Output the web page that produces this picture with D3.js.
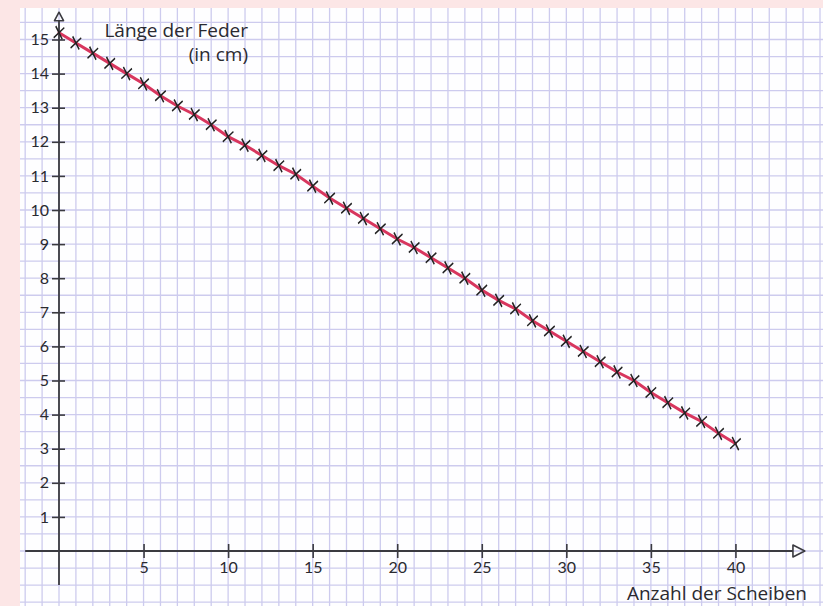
<!DOCTYPE html>
<html><head><meta charset="utf-8">
<script src="https://cdn.jsdelivr.net/npm/d3@7"></script>
<style>body{margin:0;background:#fce6e6;} svg{display:block}</style>
</head><body>
<svg id="c" width="823" height="606"></svg>
<script>
// Anzahl der Scheiben (x) and Länge der Feder in cm (y)
const scheiben = [0,1,2,3,4,5,6,7,8,9,10,11,12,13,14,15,16,17,18,19,20,21,22,23,24,25,26,27,28,29,30,31,32,33,34,35,36,37,38,39,40];
const laenge = [15.2,14.9,14.6,14.3,14.0,13.7,13.35,13.05,12.8,12.5,12.15,11.9,11.6,11.3,11.05,10.7,10.35,10.05,9.75,9.45,9.15,8.9,8.6,8.3,8.0,7.65,7.35,7.1,6.75,6.45,6.15,5.85,5.55,5.25,5.0,4.65,4.35,4.05,3.8,3.45,3.15];
const xTicks = [5,10,15,20,25,30,35,40];
const yTicks = [1,2,3,4,5,6,7,8,9,10,11,12,13,14,15];
const yTitle = ["Länge der Feder", "(in cm)"];
const xTitle = "Anzahl der Scheiben";

const svg = d3.select("#c");
const W = 823, H = 606;
const paper = {x0: 20, y0: 8, x1: W, y1: H};

const x = d3.scaleLinear().domain([0, 45]).range([59, 820]);
const y = d3.scaleLinear().domain([0, 15]).range([551, 551 - 15 * 34.1]);

// paper
svg.append("rect").attr("x", paper.x0).attr("y", paper.y0)
  .attr("width", paper.x1 - paper.x0).attr("height", paper.y1 - paper.y0)
  .attr("fill", "#fefeff");
svg.append("clipPath").attr("id", "pc").append("rect")
  .attr("x", paper.x0).attr("y", paper.y0)
  .attr("width", paper.x1 - paper.x0).attr("height", paper.y1 - paper.y0);

const grid = svg.append("g").attr("clip-path", "url(#pc)")
  .attr("stroke", "#cdcbee").attr("stroke-width", 1.3);
grid.selectAll("line.v").data(d3.range(-3, 47)).join("line").attr("class", "v")
  .attr("x1", d => x(d)).attr("x2", d => x(d)).attr("y1", paper.y0).attr("y2", paper.y1);
grid.selectAll("line.h").data(d3.range(-2, 16.5, 0.5)).join("line").attr("class", "h")
  .attr("y1", d => y(d)).attr("y2", d => y(d)).attr("x1", paper.x0).attr("x2", paper.x1);

const ink = "#3a3a40";
// axis lines
svg.append("line").attr("x1", x(0)).attr("x2", x(0)).attr("y1", y(-1)).attr("y2", y(15.55))
  .attr("stroke", ink).attr("stroke-width", 1.8);
svg.append("path")
  .attr("d", `M${x(0)},${y(15.8)} L${x(0) - 4.5},${y(15.55)} L${x(0) + 4.5},${y(15.55)} Z`)
  .attr("fill", "none").attr("stroke", ink).attr("stroke-width", 1.6).attr("stroke-linejoin", "round");
svg.append("line").attr("x1", x(-2)).attr("x2", x(43.4)).attr("y1", y(0)).attr("y2", y(0))
  .attr("stroke", ink).attr("stroke-width", 1.8);
svg.append("path")
  .attr("d", `M${x(44.1)},${y(0)} L${x(43.4)},${y(0) - 6} L${x(43.4)},${y(0) + 6} Z`)
  .attr("fill", "none").attr("stroke", ink).attr("stroke-width", 1.6).attr("stroke-linejoin", "round");

// axes ticks
const yAxis = svg.append("g").attr("transform", `translate(${x(0) + 6},0)`)
  .call(d3.axisLeft(y).tickValues(yTicks).tickSize(13).tickPadding(3).tickFormat(d3.format("d")));
yAxis.select(".domain").remove();
yAxis.selectAll("line").attr("stroke", ink).attr("stroke-width", 1.6);
yAxis.selectAll("text").attr("fill", "#2a2a30").attr("font-family", "Lato, sans-serif").attr("font-size", 16);

const xAxis = svg.append("g").attr("transform", `translate(0,${y(0) - 7})`)
  .call(d3.axisBottom(x).tickValues(xTicks).tickSize(14).tickPadding(4).tickFormat(d3.format("d")));
xAxis.select(".domain").remove();
xAxis.selectAll("line").attr("stroke", ink).attr("stroke-width", 1.6);
xAxis.selectAll("text").attr("fill", "#2a2a30").attr("font-family", "Lato, sans-serif").attr("font-size", 16);

// titles
const tf = "'Open Sans', sans-serif";
svg.append("text").attr("x", 248).attr("y", 37).attr("text-anchor", "end")
  .attr("font-family", tf).attr("font-size", 19).attr("fill", "#2a2a30").text(yTitle[0]);
svg.append("text").attr("x", 248).attr("y", 61).attr("text-anchor", "end")
  .attr("font-family", tf).attr("font-size", 19).attr("fill", "#2a2a30").text(yTitle[1]);
svg.append("text").attr("x", 807).attr("y", 600).attr("text-anchor", "end")
  .attr("font-family", tf).attr("font-size", 19).attr("fill", "#2a2a30").text(xTitle);

// data line
const pts = scheiben.map((s, i) => [s, laenge[i]]);
svg.append("path").datum(pts)
  .attr("d", d3.line().x(d => x(d[0])).y(d => y(d[1])))
  .attr("fill", "none").attr("stroke", "#d8365e").attr("stroke-width", 3).attr("stroke-linecap", "round");

svg.append("g").selectAll("path").data(pts).join("path")
  .attr("transform", d => `translate(${x(d[0])},${y(d[1])}) rotate(10) scale(0.85,1.15)`)
  .attr("d", d3.symbol(d3.symbolX, 70))
  .attr("fill", "none").attr("stroke", "#222").attr("stroke-width", 1.6);
</script>
</body></html>
